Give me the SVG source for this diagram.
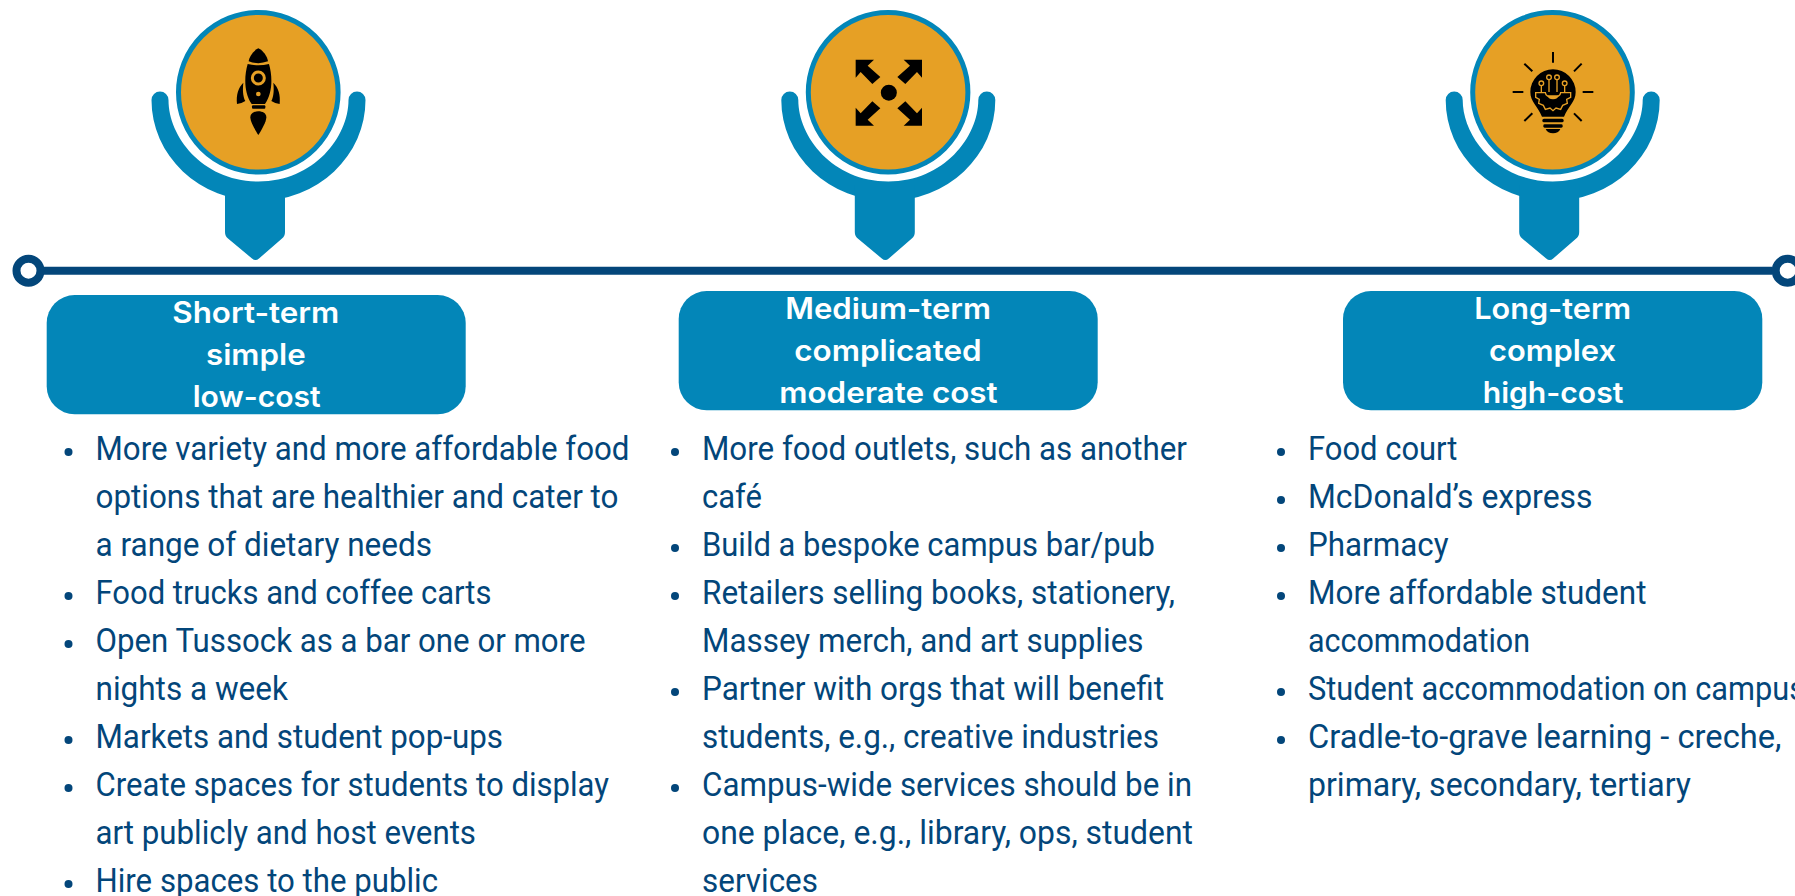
<svg xmlns="http://www.w3.org/2000/svg" width="1795" height="896" viewBox="0 0 1795 896">
<style>
.b{font-family:Roboto,"Liberation Sans",sans-serif;font-size:34px;fill:#03467a}
.h{font-family:Inter,"Noto Sans",sans-serif;font-size:29.500px;font-weight:600;fill:#fff}
.box{fill:#0386b8}
.dot{fill:#03467a}
.line{stroke:#03467a;stroke-width:8;fill:none}
.ray{stroke:#000;stroke-width:6;fill:none}
.o{fill:#e6a025}
.ol{stroke:#e6a025;stroke-width:4;fill:none}
</style>
<defs>
<g id="pin">
<path d="M151.500,100A8.500,8.500 0 0 1 168.500,100C168.500,137 203,181.500 258.500,181.500C314,181.500 348.500,137 348.500,100A8.500,8.500 0 0 1 365.500,100A107,101 0 0 1 151.500,100Z" fill="#0386b8"/>
<path d="M225,185V232Q225,236 228,238.500L252,258.500Q255.500,261.500 259,258.500L282,238.500Q285,236 285,232V185Z" fill="#0386b8"/>
<circle cx="258.300" cy="92.300" r="79.800" fill="#e6a025" stroke="#0386b8" stroke-width="5"/>
</g>
</defs>
<rect width="1795" height="896" fill="#fff"/>
<g id="connectors">
<path class="line" d="M40,270.700H1772"/>
<circle class="line" cx="28.500" cy="270.700" r="12"/>
<circle class="line" cx="1787.700" cy="270.700" r="12"/>
</g>
<g id="pin-short">
<use href="#pin"/>
<g transform="translate(130,0) scale(.33333)">
<path d="M385,145C370,152 358,170 356,184Q385,195 414,184C412,170 400,152 385,145Z"/>
<path d="M353,192Q385,200 417,192C428,230 428,280 405,312L365,312C342,280 342,230 353,192Z"/>
<circle cx="385" cy="234" r="18" fill="#000" stroke="#e6a025" stroke-width="9"/>
<circle cx="385" cy="282" r="7" class="o"/>
<rect x="366" y="316" width="40" height="10" rx="3"/>
<path d="M385,405C375,390 361,365 361,352C361,340 372,334 385,334C398,334 409,340 409,352C409,365 395,390 385,405Z"/>
<path d="M340,248C325,262 318,285 321,312Q335,310 346,303C338,288 338,268 340,248Z"/>
<path d="M430,248C445,262 452,285 449,312Q435,310 424,303C432,288 432,268 430,248Z"/>
</g>
</g>
<g id="pin-medium">
<use href="#pin" x="629.800"/>
<g transform="translate(770,0) scale(.33333)">
<circle cx="356.500" cy="278" r="24"/>
<polygon points="257,179 312,179 293,197 331,231 307,252 272,216 257,233"/>
<polygon points="456,179 401,179 420,197 382,231 406,252 441,216 456,233"/>
<polygon points="257,377 312,377 293,359 331,325 307,304 272,340 257,323"/>
<polygon points="456,377 401,377 420,359 382,325 406,304 441,340 456,323"/>
</g>
</g>
<g id="pin-long">
<use href="#pin" x="1294.200"/>
<g transform="translate(1440,20) scale(.33333)">
<path class="ray" d="M339,96V128M253,131L277,154M425,131L402,154M218,216H250M428,216H460M253,303L277,280M425,303L402,280"/>
<path d="M339,148A68,68 0 0 1 407,216C407,245 385,258 372,290H306C293,258 271,245 271,216A68,68 0 0 1 339,148Z"/>
<rect x="307" y="296" width="64" height="11" rx="5"/>
<rect x="310" y="313" width="58" height="10" rx="4"/>
<path d="M317,327H361Q355,340 339,340Q323,340 317,327Z"/>
<path d="M287,218H316C318,236 360,236 362,218H392V232L380,238L382,250L368,256L362,268L348,264L339,272L330,264L316,268L310,256L296,250L298,238L287,232Z" fill="#000" stroke="#e6a025" stroke-width="4"/>
<path class="o" d="M322,226H356Q354,238 339,238Q324,238 322,226Z"/>
<path class="ol" d="M327,179V216M351,179V216M304,197V218M374,197V218"/>
<circle class="ol" cx="327" cy="172" r="7"/><circle class="ol" cx="351" cy="172" r="7"/><circle class="ol" cx="304" cy="190" r="7"/><circle class="ol" cx="374" cy="190" r="7"/>
</g>
</g>
<g id="label-short">
<rect class="box" x="46.700" y="295" width="419" height="119.300" rx="28"/>
<text class="h" x="172.300" y="323" textLength="167" lengthAdjust="spacingAndGlyphs">Short-term</text>
<text class="h" x="206" y="365" textLength="99.700" lengthAdjust="spacingAndGlyphs">simple</text>
<text class="h" x="192.700" y="407" textLength="128" lengthAdjust="spacingAndGlyphs">low-cost</text>
</g>
<g id="label-medium">
<rect class="box" x="678.700" y="291" width="419" height="119.300" rx="28"/>
<text class="h" x="785.300" y="319" textLength="205.700" lengthAdjust="spacingAndGlyphs">Medium-term</text>
<text class="h" x="794.300" y="361" textLength="187.300" lengthAdjust="spacingAndGlyphs">complicated</text>
<text class="h" x="779.300" y="403" textLength="218.300" lengthAdjust="spacingAndGlyphs">moderate cost</text>
</g>
<g id="label-long">
<rect class="box" x="1343" y="291" width="419.300" height="119.300" rx="28"/>
<text class="h" x="1474.300" y="319" textLength="156.700" lengthAdjust="spacingAndGlyphs">Long-term</text>
<text class="h" x="1489" y="361" textLength="127" lengthAdjust="spacingAndGlyphs">complex</text>
<text class="h" x="1482.700" y="403" textLength="140.700" lengthAdjust="spacingAndGlyphs">high-cost</text>
</g>
<g id="list-short">
<circle class="dot" cx="68.500" cy="452" r="4"/><circle class="dot" cx="68.500" cy="596" r="4"/><circle class="dot" cx="68.500" cy="644" r="4"/><circle class="dot" cx="68.500" cy="740" r="4"/><circle class="dot" cx="68.500" cy="788" r="4"/><circle class="dot" cx="68.500" cy="884" r="4"/>
<text class="b" x="95.500" y="460" textLength="534" lengthAdjust="spacingAndGlyphs">More variety and more affordable food</text>
<text class="b" x="95.500" y="508" textLength="523" lengthAdjust="spacingAndGlyphs">options that are healthier and cater to</text>
<text class="b" x="95.500" y="556" textLength="336.500" lengthAdjust="spacingAndGlyphs">a range of dietary needs</text>
<text class="b" x="95.500" y="604" textLength="396" lengthAdjust="spacingAndGlyphs">Food trucks and coffee carts</text>
<text class="b" x="95.500" y="652" textLength="490" lengthAdjust="spacingAndGlyphs">Open Tussock as a bar one or more</text>
<text class="b" x="95.500" y="700" textLength="192.500" lengthAdjust="spacingAndGlyphs">nights a week</text>
<text class="b" x="95.500" y="748" textLength="407.500" lengthAdjust="spacingAndGlyphs">Markets and student pop-ups</text>
<text class="b" x="95.500" y="796" textLength="513.500" lengthAdjust="spacingAndGlyphs">Create spaces for students to display</text>
<text class="b" x="95.500" y="844" textLength="380.500" lengthAdjust="spacingAndGlyphs">art publicly and host events</text>
<text class="b" x="95.500" y="892" textLength="342.500" lengthAdjust="spacingAndGlyphs">Hire spaces to the public</text>
</g>
<g id="list-medium">
<circle class="dot" cx="675" cy="452" r="4"/><circle class="dot" cx="675" cy="548" r="4"/><circle class="dot" cx="675" cy="596" r="4"/><circle class="dot" cx="675" cy="692" r="4"/><circle class="dot" cx="675" cy="788" r="4"/>
<text class="b" x="702" y="460" textLength="485" lengthAdjust="spacingAndGlyphs">More food outlets, such as another</text>
<text class="b" x="702" y="508" textLength="60" lengthAdjust="spacingAndGlyphs">café</text>
<text class="b" x="702" y="556" textLength="453" lengthAdjust="spacingAndGlyphs">Build a bespoke campus bar/pub</text>
<text class="b" x="702" y="604" textLength="473" lengthAdjust="spacingAndGlyphs">Retailers selling books, stationery,</text>
<text class="b" x="702" y="652" textLength="441.500" lengthAdjust="spacingAndGlyphs">Massey merch, and art supplies</text>
<text class="b" x="702" y="700" textLength="462" lengthAdjust="spacingAndGlyphs">Partner with orgs that will benefit</text>
<text class="b" x="702" y="748" textLength="457" lengthAdjust="spacingAndGlyphs">students, e.g., creative industries</text>
<text class="b" x="702" y="796" textLength="490" lengthAdjust="spacingAndGlyphs">Campus-wide services should be in</text>
<text class="b" x="702" y="844" textLength="491" lengthAdjust="spacingAndGlyphs">one place, e.g., library, ops, student</text>
<text class="b" x="702" y="892" textLength="116" lengthAdjust="spacingAndGlyphs">services</text>
</g>
<g id="list-long">
<circle class="dot" cx="1281" cy="452" r="4"/><circle class="dot" cx="1281" cy="500" r="4"/><circle class="dot" cx="1281" cy="548" r="4"/><circle class="dot" cx="1281" cy="596" r="4"/><circle class="dot" cx="1281" cy="692" r="4"/><circle class="dot" cx="1281" cy="740" r="4"/>
<text class="b" x="1308" y="460" textLength="149.500" lengthAdjust="spacingAndGlyphs">Food court</text>
<text class="b" x="1308" y="508" textLength="284.500" lengthAdjust="spacingAndGlyphs">McDonald’s express</text>
<text class="b" x="1308" y="556" textLength="140.500" lengthAdjust="spacingAndGlyphs">Pharmacy</text>
<text class="b" x="1308" y="604" textLength="338.500" lengthAdjust="spacingAndGlyphs">More affordable student</text>
<text class="b" x="1308" y="652" textLength="222" lengthAdjust="spacingAndGlyphs">accommodation</text>
<text class="b" x="1308" y="700" textLength="497" lengthAdjust="spacingAndGlyphs">Student accommodation on campus</text>
<text class="b" x="1308" y="748" textLength="473.500" lengthAdjust="spacingAndGlyphs">Cradle-to-grave learning - creche,</text>
<text class="b" x="1308" y="796" textLength="383" lengthAdjust="spacingAndGlyphs">primary, secondary, tertiary</text>
</g>
</svg>
